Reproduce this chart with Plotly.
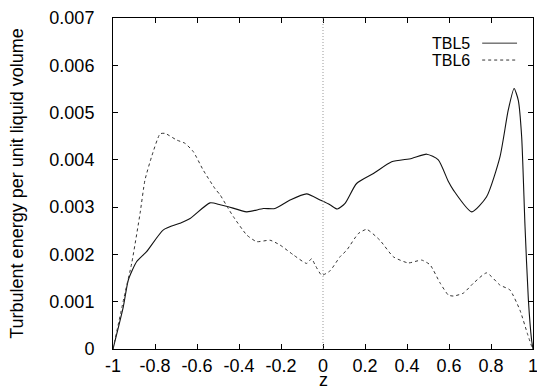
import plotly.graph_objects as go

# TBL5 (solid)
tbl5_z = [-1.0, -0.951, -0.927, -0.887, -0.84, -0.76, -0.681, -0.633, -0.538, -0.49, -0.451,
          -0.363, -0.284, -0.229, -0.157, -0.078, -0.014, 0.033, 0.068, 0.105, 0.16, 0.24,
          0.327, 0.422, 0.494, 0.549, 0.597, 0.621, 0.708, 0.779, 0.843, 0.882, 0.91, 0.93,
          0.946, 0.962, 0.978, 0.993, 1.0]
tbl5_e = [0.0, 0.00089, 0.00146, 0.00185, 0.00206, 0.00252, 0.00266, 0.00276, 0.00309, 0.00305, 0.00301,
          0.0029, 0.00297, 0.00297, 0.00315, 0.00328, 0.00315, 0.00305, 0.00296, 0.00308, 0.0035, 0.00371,
          0.00396, 0.00403, 0.00412, 0.004, 0.00354, 0.00336, 0.0029, 0.00322, 0.00407, 0.00505, 0.00551, 0.00526,
          0.00449, 0.00259, 0.00104, 0.0002, 0.0]

# TBL6 (dashed)
tbl6_z = [-1.0, -0.943, -0.911, -0.871, -0.848, -0.816, -0.776, -0.752, -0.697, -0.657, -0.617,
          -0.57, -0.514, -0.49, -0.451, -0.427, -0.363, -0.316, -0.252, -0.205, -0.141, -0.078,
          -0.054, -0.038, -0.006, 0.033, 0.081, 0.113, 0.168, 0.208, 0.271, 0.335, 0.406, 0.47,
          0.51, 0.557, 0.597, 0.621, 0.668, 0.716, 0.779, 0.843, 0.89, 0.938, 0.973, 0.994]
tbl6_e = [0.0, 0.00118, 0.00181, 0.00287, 0.00357, 0.00407, 0.00455, 0.00456, 0.00442, 0.00435, 0.00417,
          0.00378, 0.00339, 0.00326, 0.00297, 0.0028, 0.00241, 0.00227, 0.0023, 0.0022, 0.00199, 0.00181,
          0.00191, 0.00178, 0.00156, 0.00165, 0.00195, 0.00209, 0.00244, 0.00253, 0.0023, 0.00195, 0.00182, 0.00188,
          0.00178, 0.0014, 0.00114, 0.00112, 0.00118, 0.00139, 0.00161, 0.00135, 0.00125, 0.00082, 0.00033, 0.00005]

x_ticks = [-1, -0.8, -0.6, -0.4, -0.2, 0, 0.2, 0.4, 0.6, 0.8, 1]
x_labels = ["-1", "-0.8", "-0.6", "-0.4", "-0.2", "0", "0.2", "0.4", "0.6", "0.8", "1"]
y_ticks = [0, 0.001, 0.002, 0.003, 0.004, 0.005, 0.006, 0.007]
y_labels = ["0", "0.001", "0.002", "0.003", "0.004", "0.005", "0.006", "0.007"]

FONT = "Liberation Sans, Arial, sans-serif"

fig = go.Figure()
fig.add_trace(go.Scatter(x=tbl5_z, y=tbl5_e, mode="lines", name="TBL5",
                         line=dict(color="#111111", width=1.1, shape="spline", smoothing=0.6)))
fig.add_trace(go.Scatter(x=tbl6_z, y=tbl6_e, mode="lines", name="TBL6",
                         line=dict(color="#333333", width=1, dash="3px,3px", shape="spline", smoothing=0.5)))

fig.add_vline(x=0, line=dict(color="#999999", width=1, dash="1px,2px"))

# gnuplot-style legend (text then sample line)
legend_items = [("TBL5", "solid", 0.924), ("TBL6", "3px,3px", 0.873)]
for label, dash, yp in legend_items:
    fig.add_annotation(x=0.852, y=yp, xref="paper", yref="paper", text=label, showarrow=False,
                       xanchor="right", yanchor="middle", borderpad=0,
                       font=dict(size=16, color="black", family=FONT))
    fig.add_shape(type="line", xref="paper", yref="paper", x0=0.879, x1=0.962, y0=yp, y1=yp,
                  line=dict(color="#333333", width=1, dash=dash))

fig.add_annotation(x=0.5, y=-0.126, xref="paper", yref="paper", text="z", showarrow=False,
                   xanchor="center", yanchor="bottom", borderpad=0,
                   font=dict(size=18, color="black", family=FONT))

fig.update_layout(
    width=537, height=391,
    margin=dict(l=113, r=4, t=18, b=42),
    plot_bgcolor="white", paper_bgcolor="white",
    showlegend=False,
    font=dict(family=FONT, size=18, color="black"),
)
fig.update_xaxes(range=[-1, 1], tickvals=x_ticks, ticktext=x_labels, automargin=False,
                 showline=True, linecolor="black", linewidth=1, mirror="allticks",
                 ticks="inside", ticklen=5, tickcolor="black", showgrid=False, zeroline=False,
                 ticklabelstandoff=0, ticklabeloverflow="allow")
fig.update_yaxes(range=[0, 0.007], tickvals=y_ticks, ticktext=y_labels, automargin=False,
                 showline=True, linecolor="black", linewidth=1, mirror="allticks",
                 ticks="inside", ticklen=5, tickcolor="black", showgrid=False, zeroline=False,
                 ticklabelstandoff=14, ticklabeloverflow="allow",
                 title=dict(text="Turbulent energy per unit liquid volume", standoff=21, font=dict(size=18)))

fig.write_html("out.html", config={"displayModeBar": False},
               post_script="document.body.style.margin='0';document.body.style.overflow='hidden';")
